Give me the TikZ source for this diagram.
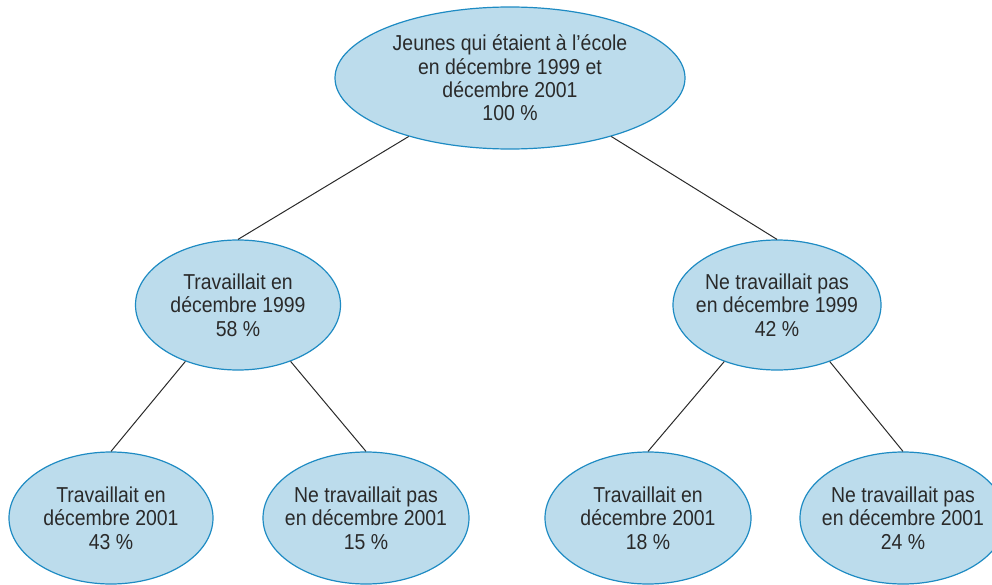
\documentclass[tikz,border=0pt]{standalone}
\usepackage{fontspec}
\setmainfont{Liberation Sans}[FakeStretch=0.9]
\usetikzlibrary{shapes.geometric}
\definecolor{bubblefill}{HTML}{BCDCEC}
\definecolor{bubbleedge}{HTML}{1E8BC3}
\definecolor{inktext}{HTML}{2A2A2A}
\definecolor{linkline}{HTML}{2A2A2A}
\begin{document}
\begin{tikzpicture}[x=0.75pt,y=-0.75pt,
  bubble/.style={ellipse, draw=bubbleedge, fill=bubblefill, line width=0.9pt,
    inner xsep=-15pt, inner ysep=0pt, align=center, text=inktext,
    font=\fontsize{16.2}{17.5}\selectfont},
  radii/.style 2 args={minimum width=#1*1.5pt, minimum height=#2*1.5pt},
  link/.style={draw=linkline, line width=0.75pt}]
\useasboundingbox (0,0) rectangle (992,585);
\clip (0,0) rectangle (992,585);

% root
\node[bubble, radii={175}{71}] (root) at (510,78)
  {Jeunes qui étaient à l’école\\en décembre 1999 et\\décembre 2001\\100 \%};

% second level
\node[bubble, radii={102.5}{65}] (wl) at (238,305)
  {Travaillait en\\décembre 1999\\58 \%};
\node[bubble, radii={104}{65}] (wr) at (777,305)
  {Ne travaillait pas\\en décembre 1999\\42 \%};

% third level
\node[bubble, radii={102}{66}] (a) at (111,518)
  {Travaillait en\\décembre 2001\\43 \%};
\node[bubble, radii={103}{66}] (b) at (366,518)
  {Ne travaillait pas\\en décembre 2001\\15 \%};
\node[bubble, radii={103}{66}] (c) at (648,518)
  {Travaillait en\\décembre 2001\\18 \%};
\node[bubble, radii={103}{66}] (d) at (903,518)
  {Ne travaillait pas\\en décembre 2001\\24 \%};

% connectors
\draw[link] (root.210) -- (wl.north);
\draw[link] (root.330) -- (wr.north);
\draw[link] (wl.227) -- (a.north);
\draw[link] (wl.313) -- (b.north);
\draw[link] (wr.227) -- (c.north);
\draw[link] (wr.313) -- (d.north);
\end{tikzpicture}
\end{document}
